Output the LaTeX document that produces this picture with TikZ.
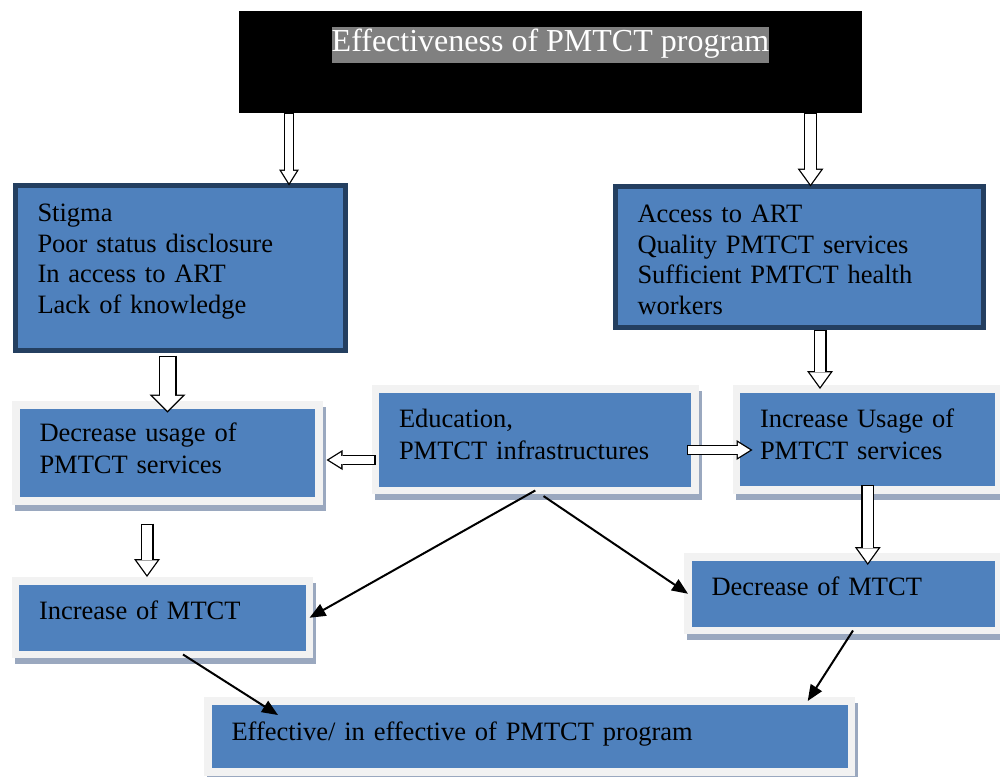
\documentclass[tikz,border=0pt]{standalone}
\usepackage{fontspec}
\setmainfont{Liberation Serif}
\usepackage{xcolor}
\usepackage{tikz}
\usetikzlibrary{arrows.meta, shadows}

\definecolor{boxblue}{HTML}{4F81BD}
\definecolor{boxnavy}{HTML}{243F60}
\definecolor{framegrey}{HTML}{F2F2F2}
\definecolor{shadowgrey}{HTML}{9AA8BF}
\definecolor{hlgrey}{HTML}{808080}
\setlength{\fboxsep}{0pt}

\begin{document}
\begin{tikzpicture}[
        x=1pt, y=-1pt,
        titlebox/.style={rectangle, fill=black, inner sep=0pt, outer sep=0pt, anchor=north west, text=white, font=\fontsize{32}{36}\selectfont},
        causebox/.style={rectangle, draw=boxnavy, line width=5pt, fill=boxblue, inner xsep=22pt, inner ysep=0pt, outer sep=0pt, text height=36pt, align=left, anchor=north west, font=\fontsize{26.5}{30.5}\selectfont},
        flowbox/.style={rectangle, draw=framegrey, line width=7.5pt, fill=boxblue, inner xsep=23.5pt, inner ysep=0pt, outer sep=0pt, text height=38pt, align=left, anchor=north west, font=\fontsize{26.5}{32.3}\selectfont,
            drop shadow={shadow xshift=3pt, shadow yshift=-6pt, fill=shadowgrey, draw=shadowgrey, line width=7.5pt, opacity=1}},
        hollow/.style={line width=13pt, -{Triangle[length=18pt, width=26pt, line width=0pt]},
            postaction={draw=white, line width=10.4pt, shorten <=1.3pt, shorten >=2.2pt, -{Triangle[length=14.5pt, width=20.9pt, line width=0pt]}}},
        hollow wide/.style={line width=18pt, -{Triangle[length=18pt, width=36pt, line width=0pt]},
            postaction={draw=white, line width=15.4pt, shorten <=1.3pt, shorten >=1.8pt, -{Triangle[length=14.9pt, width=29.7pt, line width=0pt]}}},
        hollow thin/.style={line width=10pt, -{Triangle[length=16pt, width=20pt, line width=0pt]},
            postaction={draw=white, line width=7.4pt, shorten <=1.3pt, shorten >=2.45pt, -{Triangle[length=12.25pt, width=15.3pt, line width=0pt]}}},
        link/.style={-{Triangle[length=16pt, width=13pt]}, line width=2pt}
    ]
        \useasboundingbox (0,0) rectangle (1000,776);

        % Nodes
        \node[titlebox, minimum width=623pt, text height=41pt, text depth=61pt] (title) at (239,11) {\colorbox{hlgrey}{\strut Effectiveness of PMTCT program}};

        \node[causebox, text width=286pt, text depth=129pt] (stigma) at (15.5,185.5) {Stigma\\ Poor status disclosure\\ In access to ART\\ Lack of knowledge};
        \node[causebox, text width=324pt, text depth=105pt] (access) at (615.5,186.5) {Access to ART\\ Quality PMTCT services\\ Sufficient PMTCT health\\ workers};

        \node[flowbox, text width=256pt, text height=36.5pt, text depth=59.5pt] (decusage) at (16,405) {Decrease usage of\\ PMTCT services};
        \node[flowbox, text width=272.5pt, text depth=63.5pt] (edu) at (375.5,389) {Education,\\ PMTCT infrastructures};
        \node[flowbox, text width=215.5pt, text depth=63pt] (incusage) at (736.5,389) {Increase Usage of\\ PMTCT services};

        \node[flowbox, text width=247pt, text depth=35.5pt] (incmtct) at (15.5,581) {Increase of MTCT};
        \node[flowbox, text width=264pt, text depth=35.5pt] (decmtct) at (688,557) {Decrease of MTCT};
        \node[flowbox, text width=596.7pt, text height=39pt, text depth=32pt] (effective) at (208,701) {Effective/ in effective of PMTCT program};

        % Arrows
        \draw[hollow thin] (289,0 |- title.south) -- (289,0 |- stigma.north);
        \draw[hollow] (810.5,0 |- title.south) -- (810.5,0 |- access.north);
        \draw[hollow wide] ([yshift=-5pt]stigma.south -| decusage.north) -- ([yshift=-7.5pt]decusage.north);
        \draw[hollow] ([yshift=-2.5pt]820,0 |- access.south) -- (820,0 |- incusage.north);
        \draw[hollow] ([yshift=5pt]incusage.south) -- ([yshift=-8pt]decmtct.north -| incusage.south);
        \draw[hollow] ([yshift=-22.5pt]147,0 |- decusage.south) -- ([yshift=4pt]147,0 |- incmtct.north);
        \draw[hollow thin] (edu.west |- 0,460) -- ([xshift=7.5pt]decusage.east |- 0,460);
        \draw[hollow thin] ([xshift=-8pt]edu.east |- 0,450) -- ([xshift=16pt]incusage.west |- 0,450);

        \draw[link] (edu.south) -- (incmtct.east);
        \draw[link, shorten <=10pt] (edu.south) -- (decmtct.west);
        \draw[link] ([xshift=20.5pt]incmtct.south) -- ([xshift=70pt, yshift=-14pt]effective.north west);
        \draw[link] ([xshift=9.5pt]decmtct.south) -- ([xshift=-44pt]effective.north east);
    \end{tikzpicture}
\end{document}
